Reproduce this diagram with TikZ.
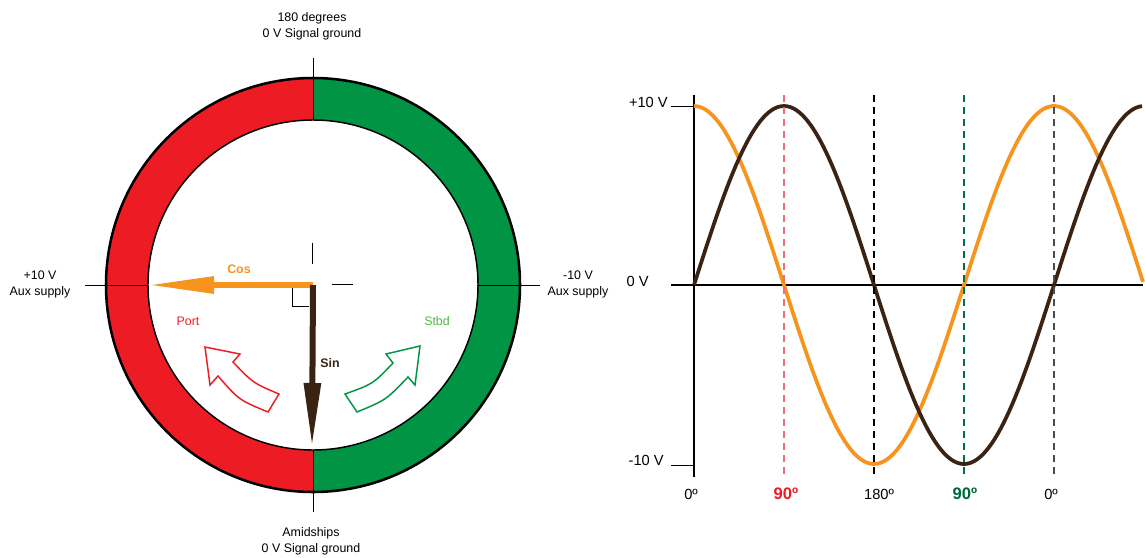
\documentclass[tikz,border=0pt]{standalone}
\usepackage{fontspec}
\setmainfont{Liberation Sans}
\usetikzlibrary{arrows.meta, calc}
\usepackage{xcolor}
\definecolor{portred}{RGB}{237, 28, 36}
\definecolor{stbdgreen}{RGB}{0, 148, 68}
\definecolor{stbdtext}{RGB}{77, 184, 72}
\definecolor{cosorange}{RGB}{247, 148, 30}
\definecolor{sinbrown}{RGB}{59, 35, 20}
\definecolor{darkgreen}{RGB}{0, 104, 56}
\definecolor{dashred}{RGB}{242, 109, 125}
\definecolor{dashgreen}{RGB}{0, 112, 74}

\begin{document}
\begin{tikzpicture}[x=0.75pt, y=-0.75pt,
  every node/.style={font=\fontsize{9.3}{12}\selectfont, inner sep=0pt, align=center},
  boldlbl/.style={font=\fontsize{9.3}{12}\selectfont\bfseries},
  graphlbl/.style={font=\fontsize{11}{13}\selectfont},
  degbold/.style={font=\fontsize{12.5}{14}\selectfont\bfseries},
  thinline/.style={line width=0.75pt},
  wave/.style={line width=2.8pt},
  guide/.style={line width=0.9pt, dash pattern=on 5.25pt off 3.75pt},
  turnarrow/.style={line width=1.1pt, fill=white, line join=miter}]
\useasboundingbox (0,0) rectangle (1145,557);

% ring, port and stbd halves
\coordinate (ctr) at (313,285);
\begin{scope}
\clip (90,60) rectangle (313,510);
\fill[portred, even odd rule] (ctr) circle[radius=207] (ctr) circle[radius=165];
\end{scope}
\begin{scope}
\clip (313,60) rectangle (540,510);
\fill[stbdgreen, even odd rule] (ctr) circle[radius=207] (ctr) circle[radius=165];
\end{scope}
\draw[line width=1.9pt] (ctr) circle[radius=207];
\draw[line width=1.1pt] (ctr) circle[radius=165];

% axis marks round the ring
\draw[thinline] (313,58) -- (313,120);
\draw[thinline] (313,450) -- (313,512);
\draw[thinline] (85,285) -- (148,285);
\draw[thinline] (477,285) -- (540,285);
\draw[thinline] (312,243) -- (312,264);
\draw[thinline] (332,284) -- (353,284);
\draw[thinline] (292,288) |- (309,306);

% vectors
\coordinate (costip) at (148,285);
\coordinate (sintip) at (312,447);
\draw[cosorange, line width=4.5pt, -{Triangle[length=49.5pt, width=12pt]}] (ctr) -- (costip);
\draw[sinbrown, line width=4.5pt, -{Triangle[length=48pt, width=12pt]}] (ctr) -- (sintip);

% turning arrows
\draw[portred, turnarrow] (205,347) -- (210,385) -- (218,376)
  .. controls (239,400) .. (268,412) -- (279,394)
  .. controls (253,383) .. (233,362) -- (240,354) -- cycle;
\draw[stbdgreen, turnarrow] (420,346) -- (415,385) -- (408,377)
  .. controls (386,400) .. (357,412) -- (345,394)
  .. controls (373,384) .. (393,363) -- (386,354) -- cycle;

% ring labels
\node (toplbl) at (312,26) {180 degrees\\0 V Signal ground};
\node (botlbl) at (311,541) {Amidships\\0 V Signal ground};
\node (auxplus) at (40,284) {+10 V\\Aux supply};
\node (auxminus) at (578,284) {-10 V\\Aux supply};
\node[boldlbl, cosorange] (coslbl) at (239,269) {Cos};
\node[boldlbl, sinbrown] (sinlbl) at (330,363) {Sin};
\node[portred] (portlbl) at (188,321) {Port};
\node[stbdtext] (stbdlbl) at (437,321) {Stbd};

% graph axes
\draw[line width=1.5pt] (694,95) -- (694,477);
\draw[line width=1.5pt] (671,285) -- (1143,285);
\draw[thinline] (671,106) -- (694,106);
\draw[thinline] (671,465) -- (694,465);
\node[graphlbl, anchor=east] (vplus) at (668,102) {+10 V};
\node[graphlbl, anchor=east] (vzero) at (649,281) {0 V};
\node[graphlbl, anchor=east] (vminus) at (664,460) {-10 V};

% waves
\draw[cosorange, wave] plot[domain=0:449, samples=150] ({694+\x}, {285-179*cos(\x)});
\draw[sinbrown, wave] plot[domain=0:448, samples=150] ({694+\x}, {285-179*sin(\x)});

% quarter marks
\foreach \xx/\col in {784/dashred, 874/black, 964/dashgreen, 1054/black!70}
  \draw[guide, \col] (\xx,95) -- (\xx,477);
\node[graphlbl] (deg0a) at (691,494) {0º};
\node[degbold, portred] (deg90a) at (786,494) {90º};
\node[graphlbl] (deg180) at (879,494) {180º};
\node[degbold, darkgreen] (deg90b) at (965,494) {90º};
\node[graphlbl] (deg0b) at (1051,494) {0º};
\end{tikzpicture}
\end{document}
